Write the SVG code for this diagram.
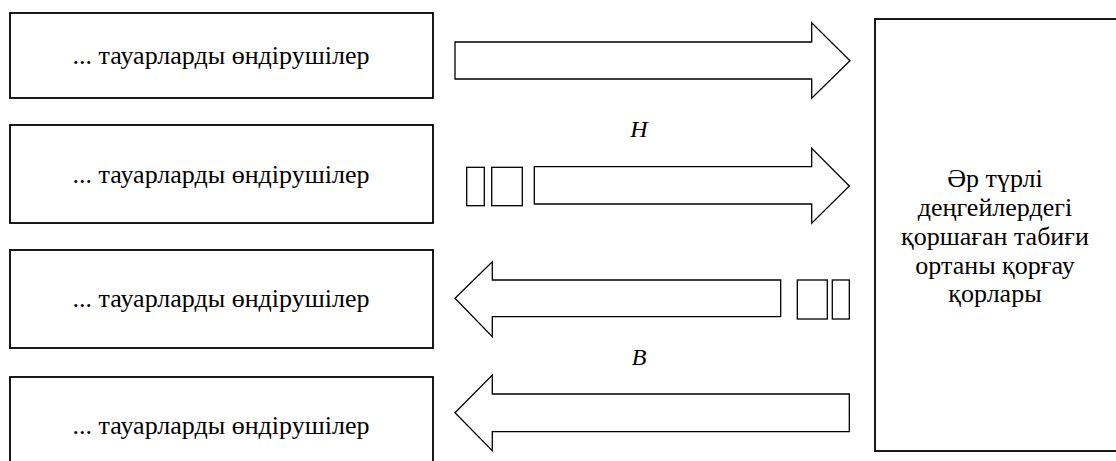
<svg xmlns="http://www.w3.org/2000/svg" width="1116" height="461" viewBox="0 0 1116 461">
<style>
.box{fill:#fff;stroke:#000;stroke-width:1.8}
.arr{fill:#fff;stroke:#000;stroke-width:1.3;stroke-linejoin:miter}
.t{font-size:26px;fill:#000;text-anchor:middle}
.lbl{font-size:24px;font-style:italic;fill:#000;text-anchor:middle}
</style>
<rect width="1116" height="461" fill="#fff"/>
<g font-family="Liberation Serif, DejaVu Serif, serif">
<g id="producer1"><rect class="box" x="10" y="13" width="423" height="85"/><text class="t" x="221" y="64">... тауарларды өндірушілер</text></g>
<g id="producer2"><rect class="box" x="10" y="125" width="423" height="98"/><text class="t" x="221" y="183">... тауарларды өндірушілер</text></g>
<g id="producer3"><rect class="box" x="10" y="250" width="423" height="98"/><text class="t" x="221" y="307">... тауарларды өндірушілер</text></g>
<g id="producer4"><rect class="box" x="10" y="377" width="423" height="98"/><text class="t" x="221" y="434">... тауарларды өндірушілер</text></g>
<g id="funds"><rect class="box" x="875" y="19" width="250" height="432"/>
<text class="t" x="995" y="187">Әр түрлі</text>
<text class="t" x="995" y="216">деңгейлердегі</text>
<text class="t" x="995" y="245">қоршаған табиғи</text>
<text class="t" x="995" y="274">ортаны қорғау</text>
<text class="t" x="995" y="302">қорлары</text></g>
<g id="connectors">
<polygon class="arr" points="455,42 811.7,42 811.7,22.7 850,60.7 811.7,98.3 811.7,79 455,79"/>
<rect class="arr" x="466.7" y="167.3" width="17.6" height="38.4"/>
<rect class="arr" x="491.7" y="167.3" width="30.6" height="38.4"/>
<polygon class="arr" points="534.3,166.7 811.7,166.7 811.7,148.3 849.3,186 811.7,223.3 811.7,204 534.3,204"/>
<text class="lbl" x="639" y="137">H</text>
<polygon class="arr" points="455,298.3 492.3,261.7 492.3,280 780.7,280 780.7,316.7 492.3,316.7 492.3,336.7"/>
<rect class="arr" x="797.3" y="280" width="30" height="39"/>
<rect class="arr" x="832.3" y="280" width="17" height="39"/>
<polygon class="arr" points="455,412.7 492.3,375 492.3,394 849.3,394 849.3,431.7 492.3,431.7 492.3,450.7"/>
<text class="lbl" x="639" y="365">B</text>
</g>
</g>
</svg>
